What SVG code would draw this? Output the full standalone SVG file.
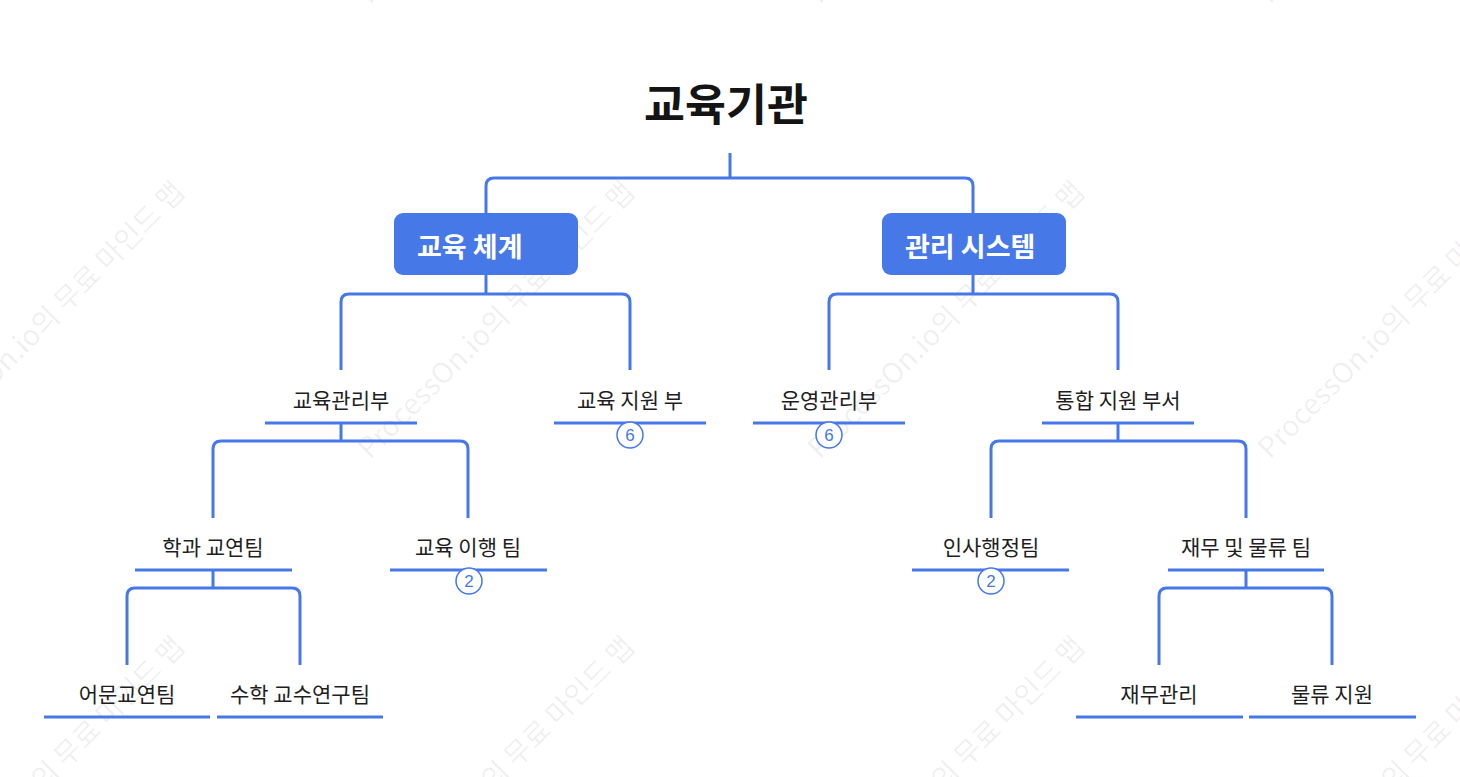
<svg xmlns="http://www.w3.org/2000/svg" width="1460" height="777" viewBox="0 0 1460 777">
<style>
.wm{font-family:"Noto Sans CJK KR","Noto Sans",sans-serif;font-size:28.5px;fill:#000;fill-opacity:0.065}
.title{font-family:"Noto Sans CJK KR",sans-serif;font-size:44.5px;font-weight:700;fill:#141414}
.box{fill:#4778E8}
.btxt{font-family:"Noto Sans CJK KR",sans-serif;font-size:27px;font-weight:700;fill:#fff}
.ntxt{font-family:"Noto Sans CJK KR",sans-serif;font-size:21px;fill:#1e1e1e}
.ul{stroke:#4778E8;stroke-width:3;fill:none}
.con path{stroke:#4778E8;stroke-width:3;fill:none;stroke-linejoin:round}
.badge circle{fill:#fff;stroke:#4778E8;stroke-width:1.5}
.badge text{font-family:"Liberation Sans",sans-serif;font-size:17px;fill:#4778E8}
</style>
<rect width="1460" height="777" fill="#fff"/>
<g id="watermark">
<text class="wm" transform="translate(-80,460) rotate(-45)">ProcessOn.io의 무료 마인드 맵</text>
<text class="wm" transform="translate(370,460) rotate(-45)">ProcessOn.io의 무료 마인드 맵</text>
<text class="wm" transform="translate(820,460) rotate(-45)">ProcessOn.io의 무료 마인드 맵</text>
<text class="wm" transform="translate(1270,460) rotate(-45)">ProcessOn.io의 무료 마인드 맵</text>
<text class="wm" transform="translate(-80,5) rotate(-45)">ProcessOn.io의 무료 마인드 맵</text>
<text class="wm" transform="translate(370,5) rotate(-45)">ProcessOn.io의 무료 마인드 맵</text>
<text class="wm" transform="translate(820,5) rotate(-45)">ProcessOn.io의 무료 마인드 맵</text>
<text class="wm" transform="translate(1270,5) rotate(-45)">ProcessOn.io의 무료 마인드 맵</text>
<text class="wm" transform="translate(-80,915) rotate(-45)">ProcessOn.io의 무료 마인드 맵</text>
<text class="wm" transform="translate(370,915) rotate(-45)">ProcessOn.io의 무료 마인드 맵</text>
<text class="wm" transform="translate(820,915) rotate(-45)">ProcessOn.io의 무료 마인드 맵</text>
<text class="wm" transform="translate(1270,915) rotate(-45)">ProcessOn.io의 무료 마인드 맵</text>
</g>
<g id="connectors" class="con">
<path d="M730,153 V178 M486,213 V186 Q486,178 494,178 H965 Q973,178 973,186 V213"/>
<path d="M486,275 V294 M341,370 V302 Q341,294 349,294 H622 Q630,294 630,302 V370"/>
<path d="M973,275 V294 M829,370 V302 Q829,294 837,294 H1110 Q1118,294 1118,302 V370"/>
<path d="M341,423 V441 M213,518 V449 Q213,441 221,441 H460 Q468,441 468,449 V518"/>
<path d="M1118,423 V441 M991,518 V449 Q991,441 999,441 H1238 Q1246,441 1246,449 V518"/>
<path d="M213,570 V588 M127,665 V596 Q127,588 135,588 H292 Q300,588 300,596 V665"/>
<path d="M1246,570 V588 M1159,665 V596 Q1159,588 1167,588 H1324 Q1332,588 1332,596 V665"/>
</g>
<g id="root"><text class="title" x="726" y="101" text-anchor="middle" dominant-baseline="central">교육기관</text></g>
<g id="n-edu-system"><rect class="box" x="394" y="213" width="184" height="62" rx="9"/><text class="btxt" x="417" y="245" dominant-baseline="central">교육 체계</text></g>
<g id="n-admin-system"><rect class="box" x="882" y="213" width="184" height="62" rx="9"/><text class="btxt" x="905" y="245" dominant-baseline="central">관리 시스템</text></g>
<g id="n-edu-mgmt"><text class="ntxt" x="341" y="399" text-anchor="middle" dominant-baseline="central">교육관리부</text><line class="ul" x1="265" y1="423" x2="417" y2="423"/></g>
<g id="n-edu-support"><text class="ntxt" x="630" y="399" text-anchor="middle" dominant-baseline="central">교육 지원 부</text><line class="ul" x1="554" y1="423" x2="706" y2="423"/><g class="badge"><circle cx="630" cy="435" r="13"/><text x="630" y="441" text-anchor="middle">6</text></g></g>
<g id="n-ops-mgmt"><text class="ntxt" x="829" y="399" text-anchor="middle" dominant-baseline="central">운영관리부</text><line class="ul" x1="753" y1="423" x2="905" y2="423"/><g class="badge"><circle cx="829" cy="435" r="13"/><text x="829" y="441" text-anchor="middle">6</text></g></g>
<g id="n-integrated"><text class="ntxt" x="1118" y="399" text-anchor="middle" dominant-baseline="central">통합 지원 부서</text><line class="ul" x1="1042" y1="423" x2="1194" y2="423"/></g>
<g id="n-dept-team"><text class="ntxt" x="213" y="546" text-anchor="middle" dominant-baseline="central">학과 교연팀</text><line class="ul" x1="135" y1="570" x2="292" y2="570"/></g>
<g id="n-edu-exec"><text class="ntxt" x="468" y="546" text-anchor="middle" dominant-baseline="central">교육 이행 팀</text><line class="ul" x1="390" y1="570" x2="547" y2="570"/><g class="badge"><circle cx="469" cy="581" r="13"/><text x="469" y="587" text-anchor="middle">2</text></g></g>
<g id="n-hr"><text class="ntxt" x="991" y="546" text-anchor="middle" dominant-baseline="central">인사행정팀</text><line class="ul" x1="912" y1="570" x2="1069" y2="570"/><g class="badge"><circle cx="991" cy="581" r="13"/><text x="991" y="587" text-anchor="middle">2</text></g></g>
<g id="n-fin-log"><text class="ntxt" x="1246" y="546" text-anchor="middle" dominant-baseline="central">재무 및 물류 팀</text><line class="ul" x1="1168" y1="570" x2="1324" y2="570"/></g>
<g id="n-lang"><text class="ntxt" x="127" y="693" text-anchor="middle" dominant-baseline="central">어문교연팀</text><line class="ul" x1="44" y1="717" x2="210" y2="717"/></g>
<g id="n-math"><text class="ntxt" x="300" y="693" text-anchor="middle" dominant-baseline="central">수학 교수연구팀</text><line class="ul" x1="217" y1="717" x2="383" y2="717"/></g>
<g id="n-fin"><text class="ntxt" x="1159" y="693" text-anchor="middle" dominant-baseline="central">재무관리</text><line class="ul" x1="1076" y1="717" x2="1243" y2="717"/></g>
<g id="n-log"><text class="ntxt" x="1332" y="693" text-anchor="middle" dominant-baseline="central">물류 지원</text><line class="ul" x1="1249" y1="717" x2="1416" y2="717"/></g>
</svg>
